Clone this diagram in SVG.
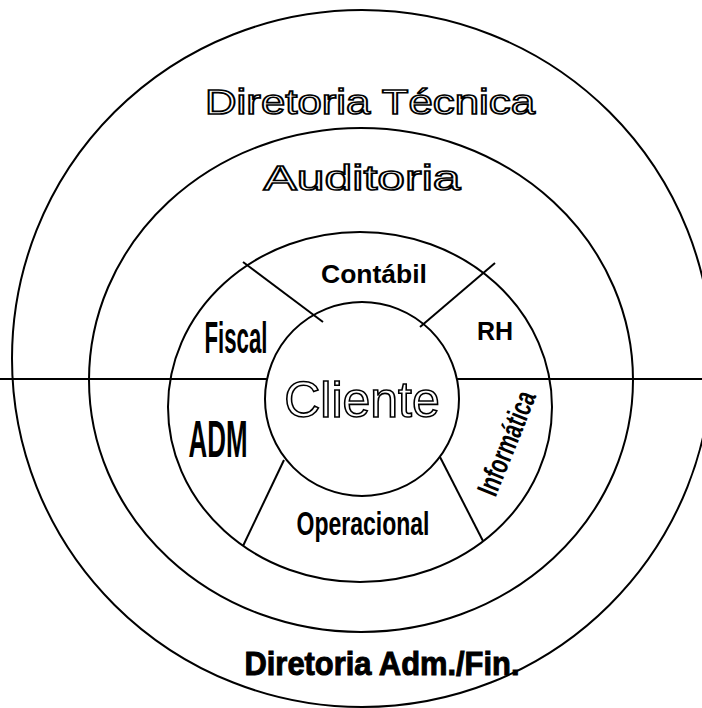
<svg xmlns="http://www.w3.org/2000/svg" width="702" height="708" viewBox="0 0 702 708">
  <style>
    .ring { fill: none; stroke: #000; stroke-width: 2; }
    .div { stroke: #000; stroke-width: 2; fill: none; }
    .hollow { font-family: "Liberation Sans", Arial, sans-serif; fill: #fff; stroke: #000; stroke-width: 1.6; text-anchor: middle; }
    .bold { font-family: "Liberation Sans", Arial, sans-serif; font-weight: bold; fill: #000; text-anchor: middle; }
    .narrow { font-family: "Liberation Sans", Arial, sans-serif; font-weight: bold; fill: #000; text-anchor: middle; }
  </style>
  <rect width="702" height="708" fill="#fff"/>

  <!-- rings -->
  <g id="rings">
    <ellipse class="ring" cx="362" cy="358.5" rx="350" ry="348.5"/>
    <ellipse class="ring" cx="361" cy="380" rx="272" ry="252"/>
    <ellipse class="ring" cx="360" cy="407" rx="192" ry="175"/>
    <circle class="ring" cx="362" cy="399" r="97"/>
  </g>

  <!-- dividing lines -->
  <g id="connectors">
    <line class="div" x1="0" y1="379" x2="267" y2="379"/>
    <line class="div" x1="457" y1="379" x2="702" y2="379"/>
    <line class="div" x1="243" y1="262" x2="323" y2="322"/>
    <line class="div" x1="495" y1="263" x2="420" y2="327"/>
    <line class="div" x1="284" y1="460" x2="243" y2="546"/>
    <line class="div" x1="440" y1="457" x2="483" y2="541"/>
  </g>

  <g id="diretoria-tecnica">
    <text class="hollow" x="370" y="114" font-size="35" textLength="330" lengthAdjust="spacingAndGlyphs">Diretoria Técnica</text>
  </g>
  <g id="auditoria">
    <text class="hollow" x="362" y="190" font-size="35" textLength="197" lengthAdjust="spacingAndGlyphs">Auditoria</text>
  </g>
  <g id="contabil">
    <text class="bold" x="374" y="283" font-size="26" textLength="106" lengthAdjust="spacingAndGlyphs">Contábil</text>
  </g>
  <g id="fiscal">
    <text class="narrow" x="236" y="353" font-size="44" textLength="63" lengthAdjust="spacingAndGlyphs">Fiscal</text>
  </g>
  <g id="rh">
    <text class="bold" x="495" y="340" font-size="25">RH</text>
  </g>
  <g id="cliente">
    <text class="hollow" x="362" y="417" font-size="50" stroke-width="1.4">Cliente</text>
  </g>
  <g id="adm">
    <text class="narrow" x="218" y="457" font-size="52" textLength="59" lengthAdjust="spacingAndGlyphs">ADM</text>
  </g>
  <g id="informatica">
    <text class="narrow" transform="translate(516 447) rotate(-68)" x="0" y="0" font-size="30" textLength="110" lengthAdjust="spacingAndGlyphs">Informática</text>
  </g>
  <g id="operacional">
    <text class="narrow" x="363" y="535" font-size="33" textLength="133" lengthAdjust="spacingAndGlyphs">Operacional</text>
  </g>
  <g id="diretoria-adm-fin">
    <text class="bold" x="382" y="675" font-size="33" font-weight="normal" stroke="#000" stroke-width="1" textLength="275" lengthAdjust="spacingAndGlyphs">Diretoria Adm./Fin.</text>
  </g>
</svg>
